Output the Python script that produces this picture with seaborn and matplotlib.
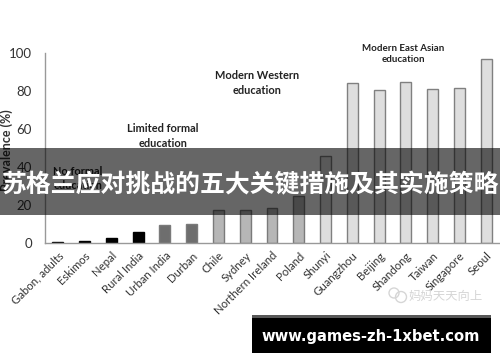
#!/usr/bin/python

import pandas as pd
from matplotlib import pyplot as plt
from matplotlib.patches import Circle, Rectangle
import seaborn as sns

W = 500
H = 362

places = ["Gabon, adults", "Eskimos", "Nepal", "Rural India", "Urban India", "Durban",
          "Chile", "Sydney", "Northern Ireland", "Poland", "Shunyi", "Guangzhou",
          "Beijing", "Shandong", "Taiwan", "Singapore", "Seoul"]
prevalence = [0.5, 1.2, 2.6, 5.8, 9.3, 10.0, 17.3, 17.4, 18.3, 25.0, 45.8, 84.2,
              80.7, 84.6, 81.0, 81.4, 96.7]
groups = ["none", "none", "none", "none", "limited", "limited", "western", "western",
          "western", "western", "east", "east", "east", "east", "east", "east", "east"]
yticks = [0, 20, 40, 60, 80, 100]

palette = {"none": "#000000", "limited": "#6e6e6e", "western": "#b6b6b6", "east": "#dedede"}
edges = {"none": "#000000", "limited": "#7a7a7a", "western": "#7a7a7a", "east": "#808080"}

title = "苏格兰应对挑战的五大关键措施及其实施策略"
site = "www.games-zh-1xbet.com"
mark = "妈妈天天向上"


# pixel position in the 500x362 picture -> figure fraction
def fx(x):
    return x / W


def fy(y):
    return 1 - y / H


def plot(df, outf):
    sns.set_style("white")
    plt.rcParams["font.family"] = ["Lato", "DejaVu Sans"]

    fig = plt.figure(figsize=(W / 100, H / 100), dpi=100)
    ax = fig.add_axes([fx(44.5), fy(243), fx(455), (243 - 53) / H])

    sns.barplot(data=df, x="Place", y="Prevalence", hue="Group", palette=palette,
                dodge=False, legend=False, width=0.41, ax=ax)
    for cont, grp in zip(ax.containers, df["Group"].unique()):
        for bar in cont:
            bar.set_edgecolor(edges[grp])
            bar.set_linewidth(1.0)

    ax.set_xlim(-0.5, len(places) - 0.5)
    ax.set_ylim(0, 100)
    ax.set_yticks(yticks)
    ax.tick_params(axis="y", labelsize=9.5, labelcolor="#333333", length=0, pad=9)
    ax.tick_params(axis="x", labelsize=8.2, labelcolor="#333333", length=0, pad=5)
    plt.setp(ax.get_xticklabels(), rotation=45, ha="right", rotation_mode="anchor")
    ax.set_xlabel("")
    ax.set_ylabel("")
    fig.text(fx(7), fy(150), "Prevalence (%)", rotation=90, ha="center", va="center",
             fontsize=9, fontweight="bold", color="#333333")

    sns.despine(ax=ax)
    for side in ["left", "bottom"]:
        ax.spines[side].set_color("#999999")
        ax.spines[side].set_linewidth(1.0)

    notes = [("No formal\neducation", 78, 178.5, 7.9, 1.35),
             ("Limited formal\neducation", 163, 136, 7.9, 1.35),
             ("Modern Western\neducation", 257, 83, 7.9, 1.35),
             ("Modern East Asian\neducation", 403, 54, 7.0, 1.25)]
    for txt, x, y, size, gap in notes:
        fig.text(fx(x), fy(y), txt, ha="center", va="center", fontsize=size,
                 fontweight="bold", color="#222222", linespacing=gap)

    # dark band across the chart with the headline on it
    fig.add_artist(Rectangle((0, fy(215)), 1, (215 - 148) / H, transform=fig.transFigure,
                             facecolor="black", alpha=0.6, edgecolor="none", zorder=5))
    fig.text(0.5, fy(185.5), title, ha="center", va="center", color="white", fontsize=17.9,
             fontweight="bold", family=["Noto Sans CJK SC", "DejaVu Sans"], zorder=6)

    # watermark
    fig.text(fx(409), fy(296), mark, ha="left", va="center", color="#d6d6d6", fontsize=8.9,
             family=["Noto Sans CJK SC", "DejaVu Sans"])
    for cx, cy, r in [(394, 293, 5), (401, 297, 5.5)]:
        fig.add_artist(Circle((cx, H - cy), r, transform=None, facecolor="none",
                              edgecolor="#d6d6d6", linewidth=1.0))

    # site banner
    fig.add_artist(Rectangle((fx(252), fy(353)), 239 / W, 38 / H, transform=fig.transFigure,
                             facecolor="black", edgecolor="none"))
    fig.add_artist(Rectangle((fx(252), fy(318)), 239 / W, 3 / H, transform=fig.transFigure,
                             facecolor="#585858", edgecolor="none"))
    fig.text(fx(371), fy(336), site, ha="center", va="center", color="white", fontsize=10.6,
             fontweight="bold", family="DejaVu Sans")

    plt.savefig(outf, dpi=100)


if __name__ == "__main__":
    df = pd.DataFrame({"Place": places, "Prevalence": prevalence, "Group": groups})
    plot(df, "out.png")
